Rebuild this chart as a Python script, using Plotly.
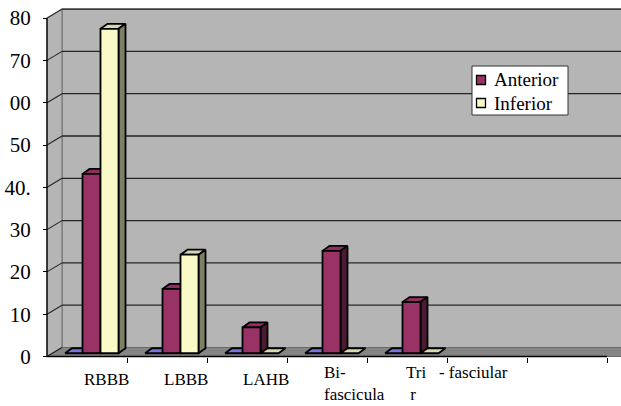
import plotly.graph_objects as go

# ---- data -------------------------------------------------------------
categories = ["RBBB", "LBBB", "LAHB", "Bi-fascicular", "Tri-fascicular", "", ""]
anterior = [42.4, 15.2, 6.1, 24.2, 12.1]
inferior = [76.7, 23.3, 0, 0, 0]
unnamed = [0, 0, 0, 0, 0]
y_ticks = [0, 10, 20, 30, 40, 50, 60, 70, 80]
y_tick_labels = ["0", "10", "20", "30", "40.", "50", "00", "70", "80"]

# ---- geometry of the pseudo-3D frame ------------------------------------
W, H = 621, 406
PX_CAT = 80.0      # pixels per category
PX_UNIT = 4.23     # pixels per value unit
AX_X = 47.0        # pixel x of the value axis
AX_Y = 356.5       # pixel y of value 0 on the front edge
x_range = [-AX_X / PX_CAT, (W - AX_X) / PX_CAT]
y_range = [-(H - AX_Y) / PX_UNIT, AX_Y / PX_UNIT]
N_CAT = len(categories)
Y_MAX = y_ticks[-1]

WALL_DX = 15 / PX_CAT
WALL_DY = 9 / PX_UNIT
BAR_DX = 7 / PX_CAT
BAR_DY = 5 / PX_UNIT
LIFT = 0.36 * WALL_DY          # bars stand a little behind the floor's front edge
BAR_W = 18 / PX_CAT
OFF_UNNAMED = 18 / PX_CAT
OFF_ANT = 35.5 / PX_CAT
OFF_INF = 53.5 / PX_CAT

FONT = "Liberation Serif, Times New Roman, DejaVu Serif, serif"
fig = go.Figure()


def poly_trace(polys, fill, line_color="black", width=1.8):
    xs, ys = [], []
    for p in polys:
        for x, y in p + [p[0]]:
            xs.append(x)
            ys.append(y)
        xs.append(None)
        ys.append(None)
    fig.add_trace(go.Scatter(x=xs, y=ys, mode="lines", fill="toself",
                             fillcolor=fill, line=dict(color=line_color, width=width),
                             hoverinfo="skip", showlegend=False))


def line_trace(xs, ys, color, width):
    fig.add_trace(go.Scatter(x=xs, y=ys, mode="lines",
                             line=dict(color=color, width=width),
                             hoverinfo="skip", showlegend=False))


# walls and floor
x_end = x_range[1] + 0.5
poly_trace([[(WALL_DX, WALL_DY), (x_end, WALL_DY), (x_end, Y_MAX + WALL_DY),
             (WALL_DX, Y_MAX + WALL_DY)]], "#b5b5b5", "#6e6e6e", 1.2)
poly_trace([[(0, 0), (WALL_DX, WALL_DY), (WALL_DX, Y_MAX + WALL_DY), (0, Y_MAX)]],
           "#b5b5b5", "#7a7a7a", 1.2)
poly_trace([[(0, 0), (WALL_DX, WALL_DY), (N_CAT + WALL_DX + 0.5, WALL_DY),
             (N_CAT + 0.5, 0), (N_CAT, 0)]], "#858585", "#6a6a6a", 1)

# gridlines on the back wall and the side wall
gx, gy, dx, dy = [], [], [], []
for v in y_ticks[1:]:
    gx += [WALL_DX, x_end, None]
    gy += [v + WALL_DY, v + WALL_DY, None]
for v in y_ticks:
    dx += [0, WALL_DX, None]
    dy += [v, v + WALL_DY, None]
line_trace(gx, gy, "#262626", 1.3)
line_trace(dx, dy, "#262626", 1.1)

# axis lines
line_trace([0, 0], [0, Y_MAX], "black", 1.3)
line_trace([0, N_CAT], [0, 0], "black", 1.5)


def bars(values, offset, front, top, side):
    fronts, tops, sides = [], [], []
    for i, v in enumerate(values):
        xl = i + offset
        xr = xl + BAR_W
        yb = LIFT
        yt = v + LIFT
        tops.append([(xl, yt), (xr, yt), (xr + BAR_DX, yt + BAR_DY), (xl + BAR_DX, yt + BAR_DY)])
        if v > 0:
            fronts.append([(xl, yb), (xr, yb), (xr, yt), (xl, yt)])
            sides.append([(xr, yb), (xr + BAR_DX, yb + BAR_DY), (xr + BAR_DX, yt + BAR_DY), (xr, yt)])
    poly_trace(tops, top)
    if sides:
        poly_trace(sides, side)
    if fronts:
        poly_trace(fronts, front)


bars(unnamed, OFF_UNNAMED, "#9999ff", "#7777dd", "#333399")
bars(anterior, OFF_ANT, "#993366", "#8e2f5f", "#4d1a33")
bars(inferior, OFF_INF, "#fafac8", "#d8d8ae", "#7f7f62")

# category labels
def py_to_val(py):
    return (AX_Y - py) / PX_UNIT

label_font = dict(family=FONT, size=17, color="black")
annotations = []
for i, name in enumerate(categories[:3]):
    annotations.append(dict(x=i + 59 / PX_CAT, y=py_to_val(379), text=name,
                            showarrow=False, xanchor="center", yanchor="middle",
                            font=label_font))
# the two long names break over two lines
wrapped = [
    (3, 35, "Bi-<br>fascicula"),
    (4, 37, "Tri\u00a0\u00a0\u00a0- fasciular<br>\u00a0r"),
]
for i, off, text in wrapped:
    annotations.append(dict(x=i + off / PX_CAT, y=py_to_val(405.5), text=text,
                            showarrow=False, xanchor="left", yanchor="bottom",
                            align="left", font=label_font))

# legend box
def px_x(p):
    return p / W


def px_y(p):
    return 1 - p / H


shapes = [dict(type="rect", xref="paper", yref="paper",
               x0=px_x(472), x1=px_x(568), y0=px_y(115), y1=px_y(66),
               fillcolor="white", line=dict(color="#333333", width=1))]
for name, color, cy in [("Anterior", "#993366", 80), ("Inferior", "#fafac8", 103)]:
    shapes.append(dict(type="rect", xref="paper", yref="paper",
                       x0=px_x(476.5), x1=px_x(485.5), y0=px_y(cy + 4.5), y1=px_y(cy - 4.5),
                       fillcolor=color, line=dict(color="black", width=1.3)))
    annotations.append(dict(xref="paper", yref="paper", x=px_x(492), y=px_y(cy),
                            text=name, showarrow=False, xanchor="left", yanchor="middle",
                            font=dict(family=FONT, size=19, color="black")))

fig.update_layout(
    width=W, height=H,
    margin=dict(l=0, r=0, t=0, b=0),
    paper_bgcolor="white", plot_bgcolor="white",
    showlegend=False,
    shapes=shapes,
    annotations=annotations,
    xaxis=dict(range=x_range, domain=[0, 1], anchor="free",
               position=(0 - y_range[0]) / (y_range[1] - y_range[0]),
               tickvals=list(range(1, N_CAT + 1)), ticks="outside", ticklen=5,
               tickcolor="black", tickwidth=1, showticklabels=False,
               showgrid=False, zeroline=False, showline=False, fixedrange=True),
    yaxis=dict(range=y_range, domain=[0, 1], anchor="free", position=AX_X / W,
               tickvals=y_ticks, ticktext=y_tick_labels, ticks="outside", ticklen=4,
               tickcolor="black", tickwidth=1, ticklabelstandoff=8,
               tickfont=dict(family=FONT, size=21, color="black"),
               showgrid=False, zeroline=False, showline=False, fixedrange=True),
)

fig.write_html("out.html")
